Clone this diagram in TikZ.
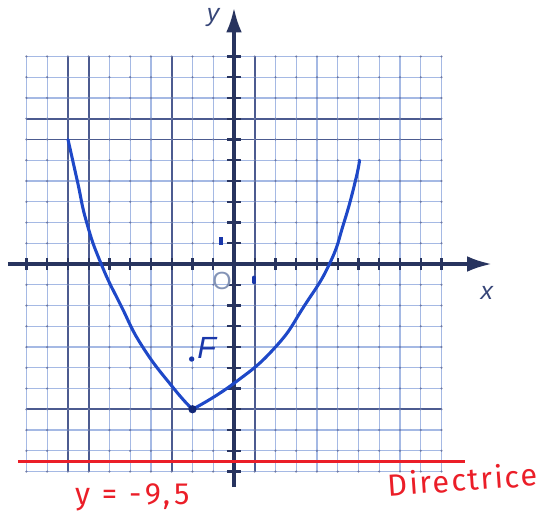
\documentclass[tikz,border=0pt]{standalone}
\usepackage{fontspec}
\setmainfont{Liberation Sans}
\newfontfamily\handfont[LetterSpace=6]{Fira Sans}
\newfontfamily\handfontwide[LetterSpace=12]{Fira Sans}
\usetikzlibrary{arrows.meta}
\definecolor{gridlight}{RGB}{165,185,228}
\definecolor{griddark}{RGB}{45,62,125}
\definecolor{axiscol}{RGB}{40,52,95}
\definecolor{curveblue}{RGB}{30,72,200}
\definecolor{inkblue}{RGB}{25,55,170}
\definecolor{redink}{RGB}{235,30,40}
\definecolor{labelcol}{RGB}{55,70,120}
\begin{document}
\begin{tikzpicture}[x=0.5cm,y=0.5cm,
  thingrid/.style={draw=gridlight, line width=0.7pt},
  thickgrid/.style={draw=griddark!85, line width=1.05pt},
  axisline/.style={draw=axiscol, line width=2.4pt, -{Latex[length=6mm,width=3.8mm]}},
  tickmark/.style={draw=axiscol, line width=1.4pt},
  curve/.style={draw=curveblue, line width=2.1pt, line join=round, line cap=round},
  axislabel/.style={text=labelcol, font=\fontsize{17}{17}\selectfont\itshape, inner sep=0pt},
  redtext/.style={text=redink, font=\handfont\fontsize{21}{21}\selectfont, inner sep=0pt},
  inklabel/.style={text=inkblue, font=\fontsize{21}{21}\selectfont\itshape, inner sep=0pt}
]
\useasboundingbox (-11.277,-12.337) rectangle (14.988,12.723);
% graph paper
\foreach \i in {-10,...,10} {
  \draw[thingrid] (\i,-10) -- (\i,10);
  \draw[thingrid] (-10,\i) -- (10,\i);
}
\foreach \i in {-8,-7,-3,1} \draw[thickgrid] (\i,-10) -- (\i,10);
\foreach \j in {7,6,-7} \draw[thickgrid] (-10,\j) -- (10,\j);
\foreach \i in {-10,...,10} \foreach \j in {-10,...,10}
  \fill[griddark!70] (\i,\j) circle (0.06);
% axes
\coordinate (xs) at (-10.9,0);
\coordinate (xe) at (12.43,0);
\coordinate (ys) at (0,-10.75);
\coordinate (ye) at (0,12.36);
\draw[axisline] (xs) -- (xe);
\draw[axisline] (ys) -- (ye);
\foreach \i in {-10,...,10} {
  \draw[tickmark] (\i,-0.3) -- (\i,0.3);
  \draw[tickmark] (-0.34,\i) -- (0.34,\i);
}
\node[axislabel] (ylab) at (-1.01,11.86) {y};
\node[axislabel] (xlab) at (12.19,-1.40) {x};
\node[text=gridlight!80!black, font=\fontsize{17}{17}\selectfont, inner sep=0pt] (orig) at (-0.58,-0.82) {O};
% unit marks
\draw[inkblue, line width=2.2pt] (-0.63,0.92) -- (-0.63,1.30);
\draw[inkblue, line width=2.6pt, line cap=round] (0.96,-0.65) -- (0.96,-0.88);
% curve
\coordinate (vtx) at (-2,-7);
\draw[curve] plot[smooth, tension=0.85] coordinates {(-8,6) (-7.55,4) (-7.1,2) (-6.4,0) (-5.45,-2) (-4.4,-4) (-2.9,-6) (-2,-7)};
\draw[curve] plot[smooth, tension=0.85] coordinates {(-2,-7) (0,-5.75) (2,-4) (3.4,-2) (4.6,0) (5.3,2) (5.85,4) (6.05,5)};
\fill[inkblue!70!black] (vtx) circle (0.2);
% focus
\coordinate (focus) at (-2.04,-4.58);
\fill[inkblue] (focus) circle (0.13);
\node[inklabel] (flab) at (-1.32,-4.05) {F};
% directrix
\coordinate (ds) at (-10.41,-9.5);
\coordinate (de) at (11.13,-9.5);
\draw[redink, line width=2pt] (ds) -- (de);
\node[redtext, font=\handfontwide\fontsize{21}{21}\selectfont, anchor=base] (eq) at (-4.9,-11.6) {y = -9,5};
\node[redtext, anchor=base, rotate=4] (dir) at (11.06,-10.94) {Directrice};
\end{tikzpicture}
\end{document}
